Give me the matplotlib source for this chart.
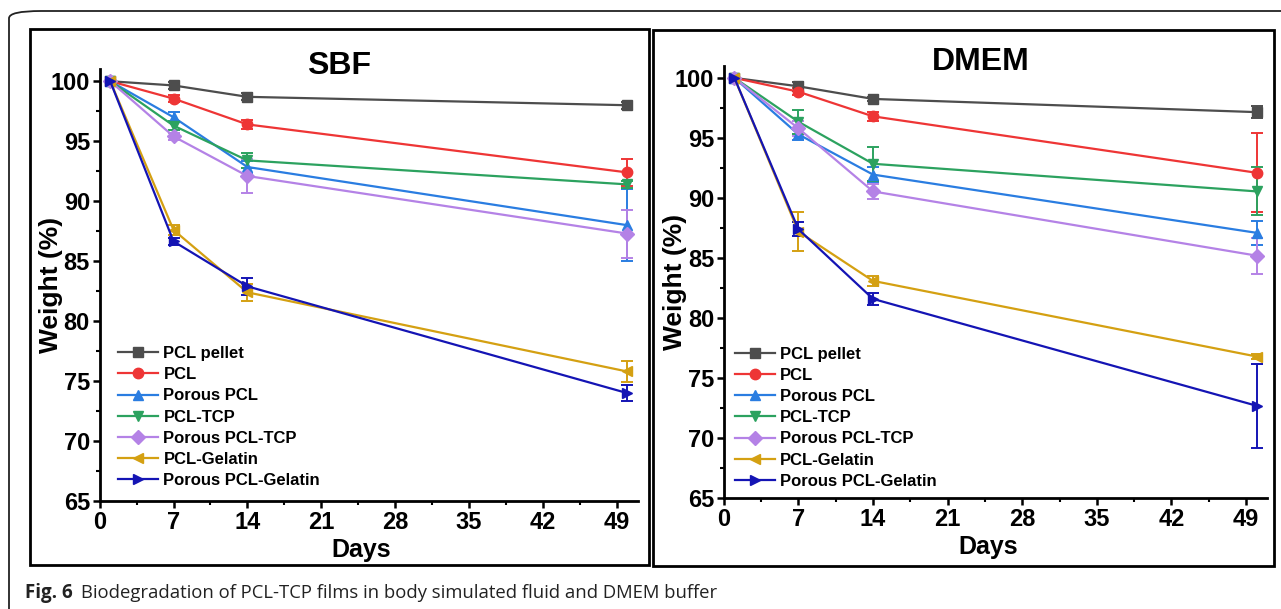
import matplotlib
matplotlib.use("Agg")
import matplotlib.pyplot as plt
from matplotlib.patches import Rectangle, FancyBboxPatch
from matplotlib.lines import Line2D
from matplotlib.ticker import MultipleLocator

# data
days = [1, 7, 14, 50]
labels = ["PCL pellet", "PCL", "Porous PCL", "PCL-TCP",
          "Porous PCL-TCP", "PCL-Gelatin", "Porous PCL-Gelatin"]

sbf_pellet = [100, 99.65, 98.7, 98.0]
sbf_pcl = [100, 98.55, 96.4, 92.4]
sbf_porous_pcl = [100, 97.0, 92.85, 88.0]
sbf_pcl_tcp = [100, 96.3, 93.4, 91.4]
sbf_porous_tcp = [100, 95.4, 92.1, 87.3]
sbf_gelatin = [100, 87.6, 82.4, 75.8]
sbf_porous_gelatin = [100, 86.65, 82.9, 74.0]

sbf_err = [
    [0, 0.3, 0.3, 0.3],
    [0, 0.3, 0.4, 1.1],
    [0, 0.4, 0.5, 3.0],
    [0, 0.4, 0.6, 0.3],
    [0, 0.3, 1.4, 2.0],
    [0, 0.4, 0.7, 0.9],
    [0, 0.3, 0.7, 0.7],
]

dmem_pellet = [100, 99.3, 98.25, 97.15]
dmem_pcl = [100, 98.85, 96.8, 92.1]
dmem_porous_pcl = [100, 95.3, 91.95, 87.1]
dmem_pcl_tcp = [100, 96.35, 92.85, 90.55]
dmem_porous_tcp = [100, 95.8, 90.55, 85.2]
dmem_gelatin = [100, 87.2, 83.1, 76.8]
dmem_porous_gelatin = [100, 87.4, 81.6, 72.7]

dmem_err = [
    [0, 0.4, 0.2, 0.5],
    [0, 0.3, 0.4, 3.3],
    [0, 0.5, 0.6, 1.0],
    [0, 1.0, 1.4, 2.0],
    [0, 0.6, 0.6, 1.5],
    [0, 1.6, 0.4, 0.2],
    [0, 0.6, 0.5, 3.5],
]

colors = ["#4d4d4d", "#ee3535", "#2a7de1", "#2ca25f", "#b482e6", "#d4a012", "#1414b4"]
markers = ["s", "o", "^", "v", "D", "<", ">"]

plt.rcParams["font.family"] = "Liberation Sans"
plt.rcParams["font.weight"] = "bold"

fig = plt.figure(figsize=(12.81, 6.09), dpi=100)

# outer rounded frame and the two panel boxes
W, H = 1281.0, 609.0
fig.add_artist(FancyBboxPatch((9 / W, -0.1), 1.2, 1.1 - 11 / H,
                              boxstyle="round,pad=0,rounding_size=0.025",
                              transform=fig.transFigure, fill=False,
                              lw=1.3, ec="#222222", mutation_aspect=H / W))
fig.add_artist(Rectangle((30 / W, 1 - 565 / H), (649 - 30) / W, (565 - 29) / H,
                         transform=fig.transFigure, fill=False, lw=2, ec="black"))
fig.add_artist(Rectangle((653 / W, 1 - 566 / H), (1274 - 653) / W, (566 - 30) / H,
                         transform=fig.transFigure, fill=False, lw=2, ec="black"))

panels = [
    ("SBF", [0.0778, 0.1773, 0.42, 0.709],
     [sbf_pellet, sbf_pcl, sbf_porous_pcl, sbf_pcl_tcp, sbf_porous_tcp,
      sbf_gelatin, sbf_porous_gelatin], sbf_err, 0.445, (0.035, 0.03)),
    ("DMEM", [0.565, 0.1818, 0.4244, 0.71],
     [dmem_pellet, dmem_pcl, dmem_porous_pcl, dmem_pcl_tcp, dmem_porous_tcp,
      dmem_gelatin, dmem_porous_gelatin], dmem_err, 0.472, (0.02, 0.022)),
]

for title, pos, series, errs, tx, lpos in panels:
    ax = fig.add_axes(pos)
    handles = []
    for y, e, c, m, lab in zip(series, errs, colors, markers, labels):
        ax.errorbar(days, y, yerr=e, color=c, marker=m, markersize=7.5,
                    lw=1.6, elinewidth=1.4, capsize=4, capthick=1.4)
        handles.append(Line2D([], [], color=c, marker=m, markersize=7.5,
                              lw=1.6, label=lab))
    ax.set_xlim(0, 51)
    ax.set_ylim(65, 101)
    ax.xaxis.set_major_locator(MultipleLocator(7))
    ax.xaxis.set_minor_locator(MultipleLocator(3.5))
    ax.yaxis.set_major_locator(MultipleLocator(5))
    ax.yaxis.set_minor_locator(MultipleLocator(2.5))
    for s in ["top", "right"]:
        ax.spines[s].set_visible(False)
    for s in ["left", "bottom"]:
        ax.spines[s].set_linewidth(2)
    ax.tick_params(which="major", direction="out", length=5, width=1.8,
                   labelsize=17, pad=2)
    ax.tick_params(which="minor", direction="out", length=3, width=1.5)
    ax.set_xlabel("Days", fontsize=18, fontweight="bold")
    ax.set_ylabel("Weight (%)", fontsize=19, fontweight="bold")
    ax.xaxis.set_label_coords(0.487, -0.085)
    ax.yaxis.set_label_coords(-0.068, 0.5)
    ax.text(tx, 0.99, title, transform=ax.transAxes, ha="center",
            va="baseline", fontsize=23, fontweight="bold")
    ax.legend(handles=handles, loc="lower left", bbox_to_anchor=lpos,
              frameon=False, fontsize=12, handlelength=2.4, handletextpad=0.3,
              labelspacing=0.37, borderpad=0, borderaxespad=0)

fig.text(25 / W, 1 - 598 / H, "Fig. 6", fontsize=13.5, fontweight="bold",
         family="Open Sans", va="baseline", color="#222222")
fig.text(81 / W, 1 - 598 / H,
         "Biodegradation of PCL-TCP films in body simulated fluid and DMEM buffer",
         fontsize=13.3, fontweight="normal", family="Open Sans", va="baseline",
         color="#222222")

fig.savefig("out.png", dpi=100)
